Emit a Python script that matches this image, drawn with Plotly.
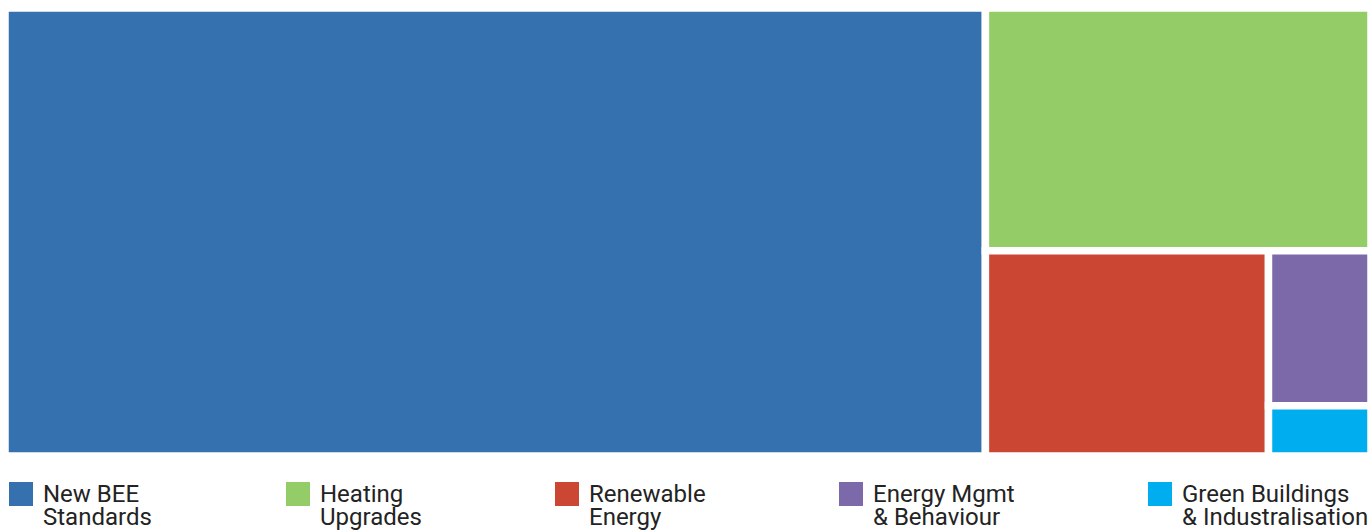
import plotly.graph_objects as go

# ---- data ----
categories = ["New BEE Standards", "Heating Upgrades", "Renewable Energy",
              "Energy Mgmt & Behaviour", "Green Buildings & Industralisation"]
values = [71.8, 15.3, 9.5, 2.6, 0.84]
legend_line1 = ["New BEE", "Heating", "Renewable", "Energy Mgmt", "Green Buildings"]
legend_line2 = ["Standards", "Upgrades", "Energy", "& Behaviour", "& Industralisation"]
colors = ["#3571AF", "#94CC67", "#CB4733", "#7C69A9", "#00AEEF"]

W, H = 1371, 532
M_L, M_R, M_T, M_B = 5, 0, 8, 76

fig = go.Figure(go.Treemap(
    labels=categories,
    parents=[""] * len(categories),
    values=values,
    marker=dict(colors=colors, line=dict(width=7.5, color="white"),
                pad=dict(t=0, l=0, r=0, b=0)),
    textinfo="none",
    hoverinfo="label+value",
    sort=True,
    tiling=dict(packing="squarify", squarifyratio=1, pad=0),
    pathbar=dict(visible=False),
))

# legend built with shapes + annotations in pixel-derived paper coords
plot_w = W - M_L - M_R
plot_h = H - M_T - M_B

def px_x(x):
    return (x - M_L) / plot_w

def px_y(y):
    return (H - M_B - y) / plot_h

legend_x = [9, 286, 555, 839, 1148]
shapes = []
annotations = []
font = dict(family="Roboto", size=24, color="#232323")
for i, lx in enumerate(legend_x):
    shapes.append(dict(type="rect", xref="paper", yref="paper",
                       x0=px_x(lx), x1=px_x(lx + 24), y0=px_y(506), y1=px_y(482),
                       fillcolor=colors[i], line=dict(width=0)))
    annotations.append(dict(xref="paper", yref="paper", x=px_x(lx + 33), y=px_y(493.5),
                            xanchor="left", yanchor="middle", text=legend_line1[i],
                            showarrow=False, font=font, align="left", borderpad=0))
    annotations.append(dict(xref="paper", yref="paper", x=px_x(lx + 33), y=px_y(517),
                            xanchor="left", yanchor="middle", text=legend_line2[i],
                            showarrow=False, font=font, align="left", borderpad=0))

fig.update_layout(
    width=W, height=H,
    margin=dict(l=M_L, r=M_R, t=M_T, b=M_B, pad=0),
    paper_bgcolor="white",
    plot_bgcolor="white",
    showlegend=False,
    shapes=shapes,
    annotations=annotations,
    font=dict(family="Roboto"),
)

fig.write_html("out.html")
